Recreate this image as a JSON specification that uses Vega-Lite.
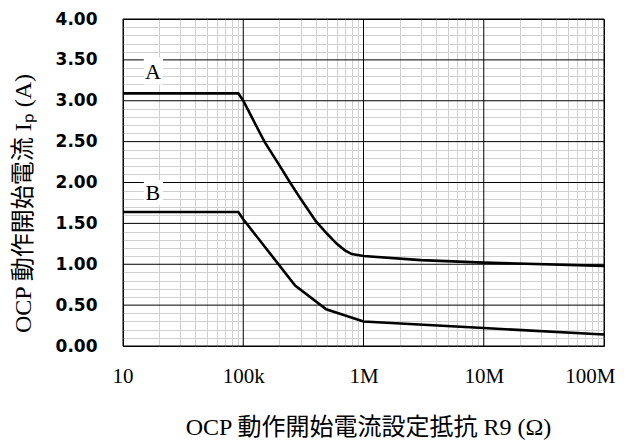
{
  "$schema": "https://vega.github.io/schema/vega-lite/v6.json",
  "width": 481,
  "height": 327,
  "autosize": {"type": "none"},
  "padding": {"left": 123, "top": 19, "right": 23, "bottom": 96},
  "background": "white",
  "config": {"view": {"stroke": "#000000", "strokeWidth": 1}},
  "datasets": {
    "curves": [
      {"curve": "A", "R": 10000, "I": 3.09},
      {"curve": "A", "R": 91000, "I": 3.09},
      {"curve": "A", "R": 100000, "I": 3.0},
      {"curve": "A", "R": 150000, "I": 2.5},
      {"curve": "A", "R": 200000, "I": 2.21},
      {"curve": "A", "R": 245000, "I": 2.0},
      {"curve": "A", "R": 300000, "I": 1.8},
      {"curve": "A", "R": 400000, "I": 1.53},
      {"curve": "A", "R": 500000, "I": 1.37},
      {"curve": "A", "R": 600000, "I": 1.25},
      {"curve": "A", "R": 700000, "I": 1.17},
      {"curve": "A", "R": 800000, "I": 1.125},
      {"curve": "A", "R": 1000000, "I": 1.1},
      {"curve": "A", "R": 3000000, "I": 1.05},
      {"curve": "A", "R": 10000000, "I": 1.02},
      {"curve": "A", "R": 100000000, "I": 0.98},
      {"curve": "B", "R": 10000, "I": 1.64},
      {"curve": "B", "R": 91000, "I": 1.64},
      {"curve": "B", "R": 100000, "I": 1.55},
      {"curve": "B", "R": 270000, "I": 0.74},
      {"curve": "B", "R": 490000, "I": 0.45},
      {"curve": "B", "R": 1000000, "I": 0.3},
      {"curve": "B", "R": 10000000, "I": 0.22},
      {"curve": "B", "R": 100000000, "I": 0.14}
    ],
    "labels": [
      {"label": "A", "R": 17700, "I": 3.35, "R0": 14900, "R1": 21500, "I0": 3.2, "I1": 3.53},
      {"label": "B", "R": 17700, "I": 1.87, "R0": 14900, "R1": 21500, "I0": 1.72, "I1": 2.03}
    ],
    "xmajor": [
      {"R": 10000}, {"R": 100000}, {"R": 1000000}, {"R": 10000000}, {"R": 100000000}
    ],
    "ymajor": [
      {"I": 0}, {"I": 0.5}, {"I": 1}, {"I": 1.5}, {"I": 2}, {"I": 2.5}, {"I": 3}, {"I": 3.5}, {"I": 4}
    ]
  },
  "resolve": {"axis": {"x": "independent", "y": "independent"}},
  "layer": [
    {
      "data": {"name": "labels"},
      "mark": {"type": "rect", "color": "#ffffff", "opacity": 1},
      "encoding": {
        "x": {
          "field": "R0", "type": "quantitative",
          "scale": {"type": "log", "domain": [10000, 100000000], "nice": false},
          "axis": {
            "orient": "top", "title": null, "labels": false, "ticks": false, "domain": false,
            "grid": true, "gridColor": "#d0d0d0", "gridWidth": 1,
            "values": [20000, 30000, 40000, 50000, 60000, 70000, 80000, 90000,
                       200000, 300000, 400000, 500000, 600000, 700000, 800000, 900000,
                       2000000, 3000000, 4000000, 5000000, 6000000, 7000000, 8000000, 9000000,
                       20000000, 30000000, 40000000, 50000000, 60000000, 70000000, 80000000, 90000000]
          }
        },
        "x2": {"field": "R1"},
        "y": {
          "field": "I0", "type": "quantitative",
          "scale": {"domain": [0, 4], "nice": false},
          "axis": {
            "orient": "right", "title": null, "labels": false, "ticks": false, "domain": false,
            "grid": true, "gridColor": "#d0d0d0", "gridWidth": 1,
            "values": [0.1, 0.2, 0.3, 0.4, 0.6, 0.7, 0.8, 0.9, 1.1, 1.2, 1.3, 1.4, 1.6, 1.7, 1.8, 1.9,
                       2.1, 2.2, 2.3, 2.4, 2.6, 2.7, 2.8, 2.9, 3.1, 3.2, 3.3, 3.4, 3.6, 3.7, 3.8, 3.9]
          }
        },
        "y2": {"field": "I1"}
      }
    },
    {
      "data": {"name": "xmajor"},
      "mark": {"type": "rule", "color": "#000000", "strokeWidth": 1},
      "encoding": {
        "x": {
          "field": "R", "type": "quantitative",
          "scale": {"type": "log", "domain": [10000, 100000000], "nice": false},
          "axis": {
            "orient": "bottom", "title": "OCP 動作開始電流設定抵抗 R9 (Ω)",
            "grid": false, "ticks": false, "domain": false,
            "values": [10000, 100000, 1000000, 10000000, 100000000],
            "labelExpr": "datum.value == 10000 ? '10' : datum.value == 100000 ? '100k' : datum.value == 1000000 ? '1M' : datum.value == 10000000 ? '10M' : '100M'",
            "labelFont": "Liberation Serif", "labelFontSize": 21, "labelColor": "#000000",
            "labelPadding": 19, "labelFlush": true, "labelFlushOffset": 11, "labelOverlap": false,
            "titleFont": "Liberation Serif, Noto Sans CJK JP", "titleFontSize": 24, "titleFontWeight": "normal",
            "titleColor": "#000000", "titleX": 245, "titleY": 81, "titleBaseline": "middle", "titleAnchor": "middle", "titleAlign": "center"
          }
        }
      }
    },
    {
      "data": {"name": "ymajor"},
      "mark": {"type": "rule", "color": "#000000", "strokeWidth": 1},
      "encoding": {
        "y": {
          "field": "I", "type": "quantitative",
          "scale": {"domain": [0, 4], "nice": false},
          "axis": {
            "orient": "left", "title": "OCP 動作開始電流 Iₚ (A)",
            "grid": false, "ticks": false, "domain": false,
            "values": [0, 0.5, 1, 1.5, 2, 2.5, 3, 3.5, 4],
            "format": ".2f",
            "labelFont": "DejaVu Sans", "labelFontSize": 17, "labelFontWeight": "bold", "labelColor": "#000000",
            "labelPadding": 26, "labelFlush": false, "labelOverlap": false,
            "titleFont": "Liberation Serif, Noto Sans CJK JP", "titleFontSize": 24, "titleFontWeight": "normal",
            "titleColor": "#000000", "titleX": -100, "titleY": 184, "titleAngle": -90,
            "titleBaseline": "middle", "titleAlign": "center"
          }
        }
      }
    },
    {
      "data": {"name": "labels"},
      "mark": {"type": "rect", "color": "#ffffff", "opacity": 1},
      "encoding": {
        "x": {"field": "R0", "type": "quantitative", "scale": {"type": "log", "domain": [10000, 100000000], "nice": false}, "axis": null},
        "x2": {"field": "R1"},
        "y": {"field": "I0", "type": "quantitative", "scale": {"domain": [0, 4], "nice": false}, "axis": null},
        "y2": {"field": "I1"}
      }
    },
    {
      "data": {"name": "curves"},
      "mark": {"type": "line", "color": "#000000", "strokeWidth": 2.6},
      "encoding": {
        "x": {"field": "R", "type": "quantitative", "scale": {"type": "log", "domain": [10000, 100000000], "nice": false}, "axis": null},
        "y": {"field": "I", "type": "quantitative", "scale": {"domain": [0, 4], "nice": false}, "axis": null},
        "detail": {"field": "curve", "type": "nominal"}
      }
    },
    {
      "data": {"name": "labels"},
      "mark": {"type": "text", "font": "Liberation Serif", "fontSize": 22, "color": "#000000", "baseline": "middle", "align": "center"},
      "encoding": {
        "x": {"field": "R", "type": "quantitative", "scale": {"type": "log", "domain": [10000, 100000000], "nice": false}, "axis": null},
        "y": {"field": "I", "type": "quantitative", "scale": {"domain": [0, 4], "nice": false}, "axis": null},
        "text": {"field": "label", "type": "nominal"}
      }
    }
  ]
}
